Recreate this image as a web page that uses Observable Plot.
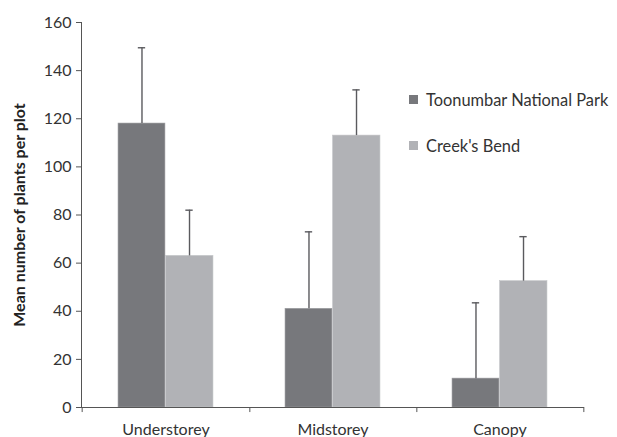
<!DOCTYPE html>
<html>
<head>
<meta charset="utf-8">
<script src="https://cdn.jsdelivr.net/npm/d3@7"></script>
<script src="https://cdn.jsdelivr.net/npm/@observablehq/plot@0.6"></script>
<style>
  html, body { margin: 0; padding: 0; background: #fff; }
  #wrap { position: relative; width: 617px; height: 437px; font-family: Lato, sans-serif; }
  #legend { position: absolute; left: 409px; top: 89px; font-size: 16.4px; color: #333; }
  #legend .item { display: flex; align-items: center; height: 20px; margin-bottom: 26px; white-space: nowrap; }
  #legend .sw { width: 9px; height: 9px; margin-right: 8px; }
</style>
</head>
<body>
<div id="wrap">
  <div id="legend"></div>
</div>
<script>
const categories = ["Understorey", "Midstorey", "Canopy"];
const sites = ["Toonumbar National Park", "Creek's Bend"];
const toonumbarMean = [118, 41, 12];
const toonumbarUpper = [149.5, 73, 43.5];
const creeksMean = [63, 113, 52.5];
const creeksUpper = [82, 132, 71];
const yTicks = [0, 20, 40, 60, 80, 100, 120, 140, 160];
const colors = ["#77787c", "#b1b2b6"];

const W = 617, H = 437, ML = 81, MR = 33, MT = 22, MB = 30;
const bw = (W - ML - MR) / categories.length;
const outer = 0.215 * bw;
const barW = 0.2835 * bw;

const rows = [];
categories.forEach((c, i) => {
  rows.push({category: c, site: sites[0], mean: toonumbarMean[i], upper: toonumbarUpper[i], k: 0});
  rows.push({category: c, site: sites[1], mean: creeksMean[i], upper: creeksUpper[i], k: 1});
});
const inset = k => k === 0
  ? {insetLeft: outer, insetRight: bw - outer - barW}
  : {insetLeft: outer + barW, insetRight: outer};
const centerDx = k => (k === 0 ? outer + barW / 2 : outer + barW * 1.5) - bw / 2;

const marks = [];
[0, 1].forEach(k => {
  const data = rows.filter(d => d.k === k);
  marks.push(Plot.barY(data, {x: "category", y: "mean", fill: colors[k], stroke: k === 0 ? "#9a9b9f" : "#c4c5c8", strokeWidth: 0.6, ...inset(k)}));
  marks.push(Plot.ruleX(data, {x: "category", y1: "mean", y2: "upper", dx: centerDx(k), stroke: "#5a5a5e", strokeWidth: 1.4}));
  marks.push(Plot.tickY(data, {x: "category", y: "upper", stroke: "#5a5a5e", strokeWidth: 1.4,
    insetLeft: bw / 2 + centerDx(k) - 4, insetRight: bw / 2 - centerDx(k) - 4}));
});

const plot = Plot.plot({
  width: W, height: H,
  marginLeft: ML, marginRight: MR, marginTop: MT, marginBottom: MB,
  style: {fontFamily: "Lato, sans-serif", fontSize: "16px", color: "#333", background: "transparent"},
  x: {domain: categories, padding: 0, label: null},
  y: {domain: [0, 160], label: null},
  marks: [
    ...marks,
    Plot.axisY({ticks: yTicks, tickSize: 5, tickPadding: 5, stroke: "#555", label: null}),
    Plot.axisX({tickSize: 0, tickPadding: 16, label: null}),
    Plot.frame({anchor: "left", stroke: "#555"}),
    Plot.ruleY([0], {stroke: "#555"}),
    Plot.ruleX(categories, {x: d => d, dx: bw / 2, y1: 0, y2: -2.1, stroke: "#555"}),
    Plot.ruleX([categories[0]], {x: d => d, dx: -bw / 2, y1: 0, y2: -2.1, stroke: "#555"}),
    Plot.text(["Mean number of plants per plot"], {frameAnchor: "left", text: d => d, rotate: -90, dx: -62, dy: 0,
      textAnchor: "middle", lineAnchor: "middle", fontWeight: "bold", fontSize: 16, fill: "#222"})
  ]
});
document.getElementById("wrap").prepend(plot);

const legend = document.getElementById("legend");
sites.forEach((s, k) => {
  const it = document.createElement("div");
  it.className = "item";
  const sw = document.createElement("span");
  sw.className = "sw";
  sw.style.background = colors[k];
  const tx = document.createElement("span");
  tx.textContent = s;
  it.append(sw, tx);
  legend.append(it);
});
</script>
</body>
</html>
